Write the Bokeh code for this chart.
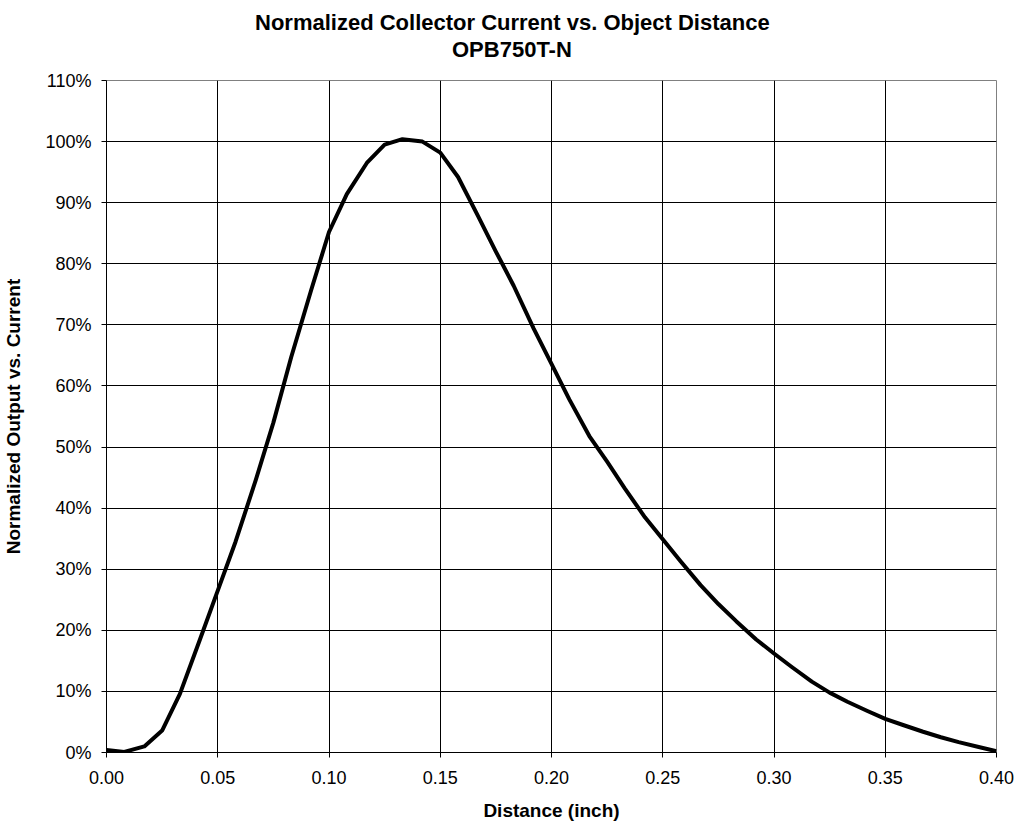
from bokeh.plotting import figure
from bokeh.models import NumeralTickFormatter, FixedTicker, Range1d, Title
from bokeh.embed import file_html
from bokeh.resources import INLINE

# Distance (inch) and normalized output (fraction of maximum)
distance = [0.000, 0.008, 0.017, 0.025, 0.033, 0.042, 0.050, 0.058, 0.067, 0.075,
            0.083, 0.092, 0.100, 0.108, 0.117, 0.125, 0.133, 0.142, 0.150, 0.158,
            0.167, 0.175, 0.183, 0.192, 0.200, 0.208, 0.217, 0.225, 0.233, 0.242,
            0.250, 0.258, 0.267, 0.275, 0.283, 0.292, 0.300, 0.308, 0.317, 0.325,
            0.333, 0.342, 0.350, 0.358, 0.367, 0.375, 0.383, 0.392, 0.400]
output = [0.004, 0.001, 0.010, 0.036, 0.096, 0.185, 0.265, 0.345, 0.445, 0.540,
          0.647, 0.757, 0.852, 0.914, 0.965, 0.995, 1.004, 1.000, 0.982, 0.942,
          0.878, 0.820, 0.764, 0.694, 0.636, 0.578, 0.518, 0.476, 0.432, 0.385,
          0.349, 0.313, 0.274, 0.243, 0.215, 0.185, 0.162, 0.140, 0.116, 0.098,
          0.083, 0.068, 0.055, 0.045, 0.034, 0.025, 0.017, 0.009, 0.002]

x_ticks = [0.00, 0.05, 0.10, 0.15, 0.20, 0.25, 0.30, 0.35, 0.40]
y_ticks = [0.0, 0.1, 0.2, 0.3, 0.4, 0.5, 0.6, 0.7, 0.8, 0.9, 1.0, 1.1]
y_grid = [0.1, 0.2, 0.3, 0.4, 0.5, 0.6, 0.7, 0.8, 0.9, 1.0]

title_1 = "Normalized Collector Current vs. Object Distance"
title_2 = "OPB750T-N"
x_label = "Distance (inch)"
y_label = "Normalized Output vs. Current"

FONT = "Liberation Sans"

p = figure(width=1015, height=826, output_backend="svg", toolbar_location=None,
           x_range=Range1d(0, 0.4), y_range=Range1d(0, 1.1),
           min_border_left=104, min_border_right=19, min_border_top=80,
           min_border_bottom=74, background_fill_color="white",
           border_fill_color="white")

p.line(distance, output, line_color="black", line_width=4, line_join="round")

p.xaxis.ticker = FixedTicker(ticks=x_ticks)
p.yaxis.ticker = FixedTicker(ticks=y_ticks)
p.xaxis.formatter = NumeralTickFormatter(format="0.00")
p.yaxis.formatter = NumeralTickFormatter(format="0%")

for ax in (p.xaxis, p.yaxis):
    ax.axis_line_color = "black"
    ax.axis_line_width = 1
    ax.major_tick_line_color = "black"
    ax.major_tick_out = 5
    ax.major_tick_in = 0
    ax.minor_tick_line_color = None
    ax.major_label_text_font = FONT
    ax.major_label_text_font_size = "18px"
    ax.major_label_text_color = "black"
    ax.axis_label_text_font = FONT
    ax.axis_label_text_font_size = "19px"
    ax.axis_label_text_font_style = "bold"
    ax.axis_label_text_color = "black"

p.xaxis.axis_label = x_label
p.yaxis.axis_label = y_label
p.xaxis.major_label_standoff = 13
p.yaxis.major_label_standoff = 10
p.xaxis.axis_label_standoff = 13
p.yaxis.axis_label_standoff = 18

p.xgrid.ticker = FixedTicker(ticks=x_ticks)
p.ygrid.ticker = FixedTicker(ticks=y_grid)
for g in (p.xgrid, p.ygrid):
    g.grid_line_color = "black"
    g.grid_line_width = 1
    g.grid_line_alpha = 1.0

p.outline_line_color = "#808080"
p.outline_line_width = 1

# White spacer, then the two title lines (stacked outward from the plot area)
p.add_layout(Title(text=".", align="left", standoff=5, text_font=FONT,
                   text_font_size="16px", text_color="white"), "above")
p.add_layout(Title(text=title_2, align="left", offset=345.5, standoff=0,
                   text_font=FONT, text_font_size="22px", text_font_style="bold",
                   text_color="black"), "above")
p.add_layout(Title(text=title_1, align="left", offset=148.5, standoff=0,
                   text_font=FONT, text_font_size="22px", text_font_style="bold",
                   text_color="black"), "above")

open("out.html", "w").write(file_html(p, INLINE))
